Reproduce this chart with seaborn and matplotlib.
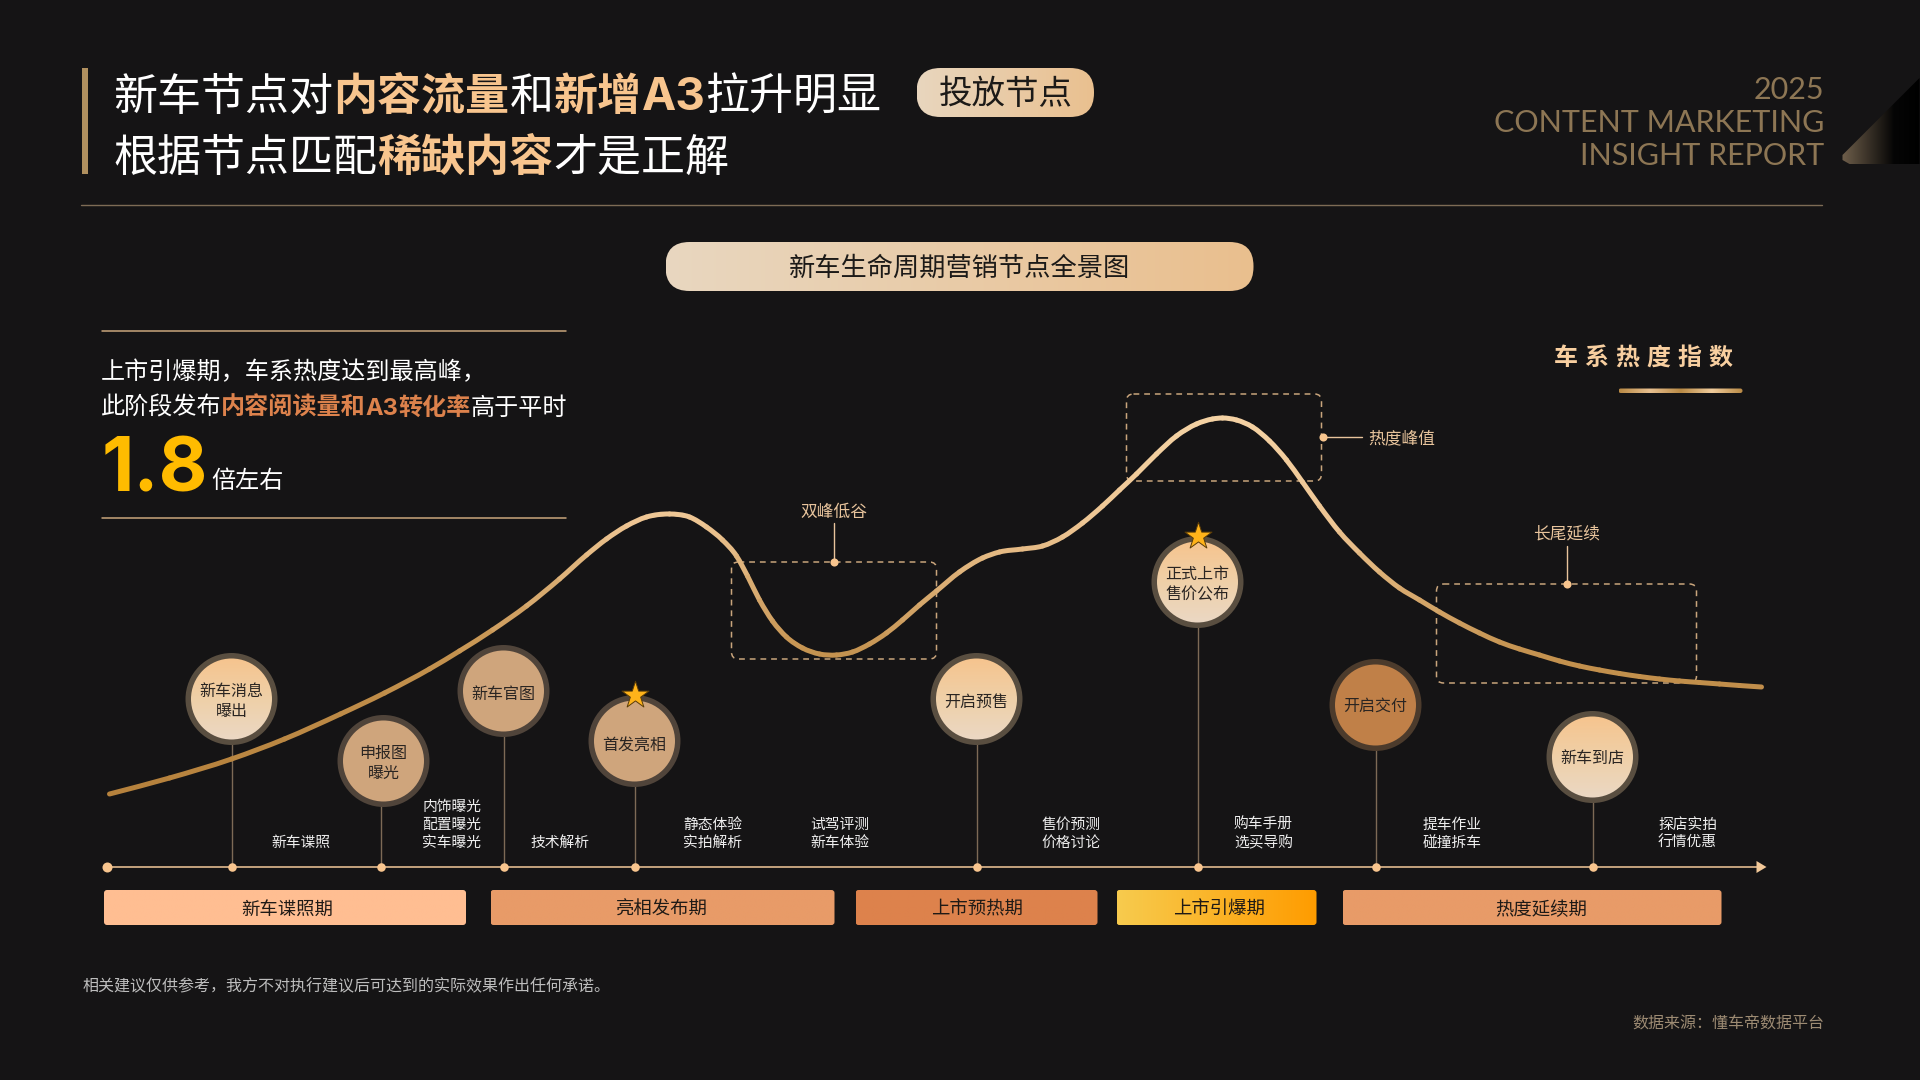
import numpy as np
import pandas as pd
import matplotlib
matplotlib.use('Agg')
import matplotlib.pyplot as plt
import seaborn as sns
from matplotlib.colors import LinearSegmentedColormap, to_rgb, to_hex
from matplotlib.patches import Circle, FancyBboxPatch, PathPatch, Polygon
from matplotlib.path import Path

# Heat curve
curve_x = [110, 170, 232, 285, 341, 385, 430, 460, 493, 527, 560, 587, 607, 627, 647, 670, 690, 707, 723, 737,
           748, 760, 773, 787, 803, 820, 837, 853, 870, 887, 903, 920, 937, 960, 983, 1000, 1023, 1043, 1063, 1083,
           1103, 1120, 1137, 1157, 1177, 1197, 1213, 1223, 1237, 1253, 1270, 1287, 1303, 1320, 1340, 1360, 1380,
           1400, 1420, 1440, 1460, 1480, 1500, 1520, 1540, 1560, 1580, 1600, 1620, 1640, 1660, 1680, 1700, 1720,
           1740, 1762]
curve_heat = [286, 302, 321, 341, 366, 387, 411, 429, 450, 474, 501, 525, 541, 554, 563, 566, 563, 553, 540, 524,
              504, 480, 459, 443, 432, 426, 425, 428, 436, 447, 460, 475, 489, 508, 522, 528, 531, 534, 543, 557,
              574, 590, 606, 626, 644, 656, 661, 662, 660, 653, 639, 620, 598, 574, 548, 527, 508,
              492, 480, 468, 457, 447, 438, 431, 425, 419, 414, 410, 406.5, 403.5, 401, 399, 397.5, 396,
              394.5, 393]

# Milestones on the timeline
node_names = ['新车消息\n曝出', '申报图\n曝光', '新车官图', '首发亮相', '开启预售', '正式上市\n售价公布', '开启交付', '新车到店']
node_x = [232, 381, 504, 635, 977, 1198, 1376, 1593]
node_y = [699, 761, 691, 741, 699, 582, 705, 757]
node_kind = ['light', 'tan', 'tan', 'tan', 'light', 'light', 'brown', 'light']
node_star = [False, False, False, True, False, True, False, False]

# Small captions above the timeline
note_names = ['新车谍照', '内饰曝光\n配置曝光\n实车曝光', '技术解析', '静态体验\n实拍解析', '试驾评测\n新车体验',
              '售价预测\n价格讨论', '购车手册\n选买导购', '提车作业\n碰撞拆车', '探店实拍\n行情优惠']
note_x = [301, 452, 560, 713, 840, 1071, 1264, 1453, 1688]

# Stages under the timeline
stage_names = ['新车谍照期', '亮相发布期', '上市预热期', '上市引爆期', '热度延续期']
stage_start = [104.5, 491, 856, 1117, 1343]
stage_end = [466.5, 835, 1098, 1317, 1722]
stage_text_x = [288, 662, 977.6, 1219, 1541.7]
stage_colors = [('#FFBE92', '#FFBE92'), ('#E89B68', '#E89B68'), ('#DD824C', '#DD824C'),
                ('#F7CB4E', '#FF9C00'), ('#E89B68', '#E89B68')]

BG = '#151415'
GOLD = '#E8C49C'
ORANGE = '#F8C58E'
CJK = ['Noto Sans CJK SC', 'DejaVu Sans']

sns.set_theme(style='dark')
plt.rcParams['font.family'] = CJK

fig = plt.figure(figsize=(19.2, 10.8), dpi=100, facecolor=BG)
# bg works in picture pixels, chart holds the heat curve on top of it
bg = fig.add_axes([0, 0, 1, 1], zorder=1)
bg.set_facecolor(BG)
chart = fig.add_axes([0, 0, 1, 1], zorder=2)
chart.patch.set_alpha(0)
renderer = fig.canvas.get_renderer()


def px(size):
    return size * 0.72


def label(x, y, s, size, color, weight='normal', ha='center', family=None):
    # y is the middle of the glyphs, so every string sits on the same line
    fam = family if family else CJK
    return bg.text(x, y + 0.36 * size, s, color=color, fontsize=px(size), fontweight=weight, ha=ha,
                   va='baseline', family=fam, zorder=6)


def stacked(x, y, s, size, color, pitch):
    lines = s.split('\n')
    for i, line in enumerate(lines):
        label(x, y + (i - (len(lines) - 1) / 2) * pitch, line, size, color)


def runs(x, y, parts, size):
    # one line of text in several colours, a fourth item is a latin family with its size factor
    for part in parts:
        s, color, weight = part[:3]
        fam, factor = part[3] if len(part) > 3 else (None, 1)
        t = label(x, y, s, size * factor, color, weight, 'left', fam)
        x += t.get_window_extent(renderer).width


def gradient(x0, y0, x1, y1, colors, clip, vertical=False, z=3):
    cmap = LinearSegmentedColormap.from_list('g', colors)
    arr = np.linspace(0, 1, 256).reshape(-1, 1) if vertical else np.linspace(0, 1, 256).reshape(1, -1)
    im = bg.imshow(arr, cmap=cmap, extent=(x0, x1, y1, y0), aspect='auto', zorder=z, interpolation='bilinear')
    clip.set_transform(bg.transData)
    clip.set(fc='none', ec='none')
    bg.add_patch(clip)
    im.set_clip_path(clip)


def rounded(x0, y0, x1, y1, r):
    return FancyBboxPatch((x0 + r, y0 + r), x1 - x0 - 2 * r, y1 - y0 - 2 * r,
                          boxstyle=f'round,pad={r},rounding_size={r}')


def dashed_box(x0, y0, x1, y1):
    box = rounded(x0, y0, x1, y1, 7)
    box.set(fc='none', ec='#C9A57C', lw=1.1, linestyle=(0, (3.8, 3.2)), zorder=2)
    bg.add_patch(box)


# Header
bg.add_patch(Polygon([(82, 68), (88, 68), (88, 174), (82, 174)], fc='#B0905F', ec='none'))
runs(114, 94, [('新车节点对', 'white', 'medium'), ('内容流量', ORANGE, 'bold'), ('和', 'white', 'medium'),
               ('新增', ORANGE, 'bold'), ('A3', ORANGE, 'bold', ('Inter', 1.04)), ('拉升明显', 'white', 'medium')], 44.05)
runs(114, 155, [('根据节点匹配', 'white', 'medium'), ('稀缺内容', ORANGE, 'bold'), ('才是正解', 'white', 'medium')], 44.05)
gradient(917, 68, 1094.5, 117, ['#E8D6BE', '#EAC08F'], rounded(917, 68, 1094.5, 117, 24))
label(1006, 92, '投放节点', 33.5, '#1c1a18', 'medium')
for s, yy in zip(['2025', 'CONTENT MARKETING', 'INSIGHT REPORT'], [88, 121, 154]):
    bg.text(1825, yy + 11, s, color='#8D7654', fontsize=px(30.5), family='Lato', ha='right', va='baseline', zorder=6)
gradient(1842, 78, 1920, 164, ['#6F5F4B', '#3A3228', '#050505', '#000000'],
         Polygon([(1920, 78), (1920, 164), (1850, 164), (1843, 160), (1843, 155)]))
bg.plot([81, 1822], [205, 205], color='#7D6B55', lw=1)

# Chart title
gradient(666, 242, 1254, 291, ['#E8D7C0', '#EABF8E'], rounded(666, 242, 1254, 291, 24))
label(960, 266, '新车生命周期营销节点全景图', 26.2, '#1c1a18', 'medium')

# Left note
for yy in [330.5, 518]:
    bg.plot([102, 566], [yy, yy], color='#C9A57C', lw=1.1)
runs(101, 371, [('上市引爆期，车系热度达到最高峰，', 'white', 'normal')], 24.1)
runs(101, 406, [('此阶段发布', 'white', 'normal'), ('内容阅读量和', '#DD824C', 'bold'),
                ('A3', '#DD824C', 'bold', ('Inter', 0.98)), ('转化率', '#DD824C', 'bold'),
                ('高于平时', 'white', 'normal')], 24.1)
bg.text(102, 492, '1.8', color='#FFBB00', fontsize=px(75), family='Inter', fontweight='bold', ha='left', va='baseline')
runs(212, 479, [('倍左右', 'white', 'normal')], 24.1)

# Index title with wide spacing
for i, ch in enumerate('车系热度指数'):
    label(1566 + i * 31, 356, ch, 24, '#F8CFA0', 'bold')
gradient(1619, 388.5, 1743, 393, ['#B98A45', '#E8C090', '#B98A45', '#F0CC9C', '#B98A45'],
         rounded(1619, 388.5, 1743, 393, 2.2))

# Dashed callouts
dashed_box(732, 562, 937, 659)
bg.plot([834, 834], [523, 562], color=GOLD, lw=1)
label(834, 511, '双峰低谷', 16.7, GOLD)
dashed_box(1127, 394, 1322, 481)
bg.plot([1323, 1362], [437, 437], color=GOLD, lw=1)
label(1369, 437.5, '热度峰值', 16.7, GOLD, ha='left')
dashed_box(1437, 584, 1697, 683)
bg.plot([1567, 1567], [546, 584], color=GOLD, lw=1)
label(1567, 532, '长尾延续', 16.7, GOLD)
bg.scatter([834, 1323, 1567], [562, 437, 584], s=34, color=ORANGE, linewidths=0, zorder=4)

# Timeline
TL = 867
bg.plot([107, 1758], [TL, TL], color='#F3C999', lw=1.1, zorder=2)
bg.add_patch(Polygon([(1757, TL - 6), (1767, TL), (1757, TL + 6)], fc='#F3C999', ec='none', zorder=2))
bg.scatter([107], [TL], s=52, color=ORANGE, linewidths=0, zorder=4)
sns.scatterplot(x=node_x, y=[TL] * len(node_x), s=38, color=ORANGE, linewidth=0, ax=bg, zorder=4, legend=False)

# Milestone bubbles
ring = {'light': '#594E40', 'tan': '#50443A', 'brown': '#4C3B2C'}
fill = {'tan': '#CFA57C', 'brown': '#C08048'}
text_nudge = [1.5, 1.5, 2.5, 2.5, 2.5, 1.5, -0.5, 0.5]
for name, x, y, kind, star, dy in zip(node_names, node_x, node_y, node_kind, node_star, text_nudge):
    bx = x + 3 if name.startswith('申报') else x
    bg.plot([x, x], [y, TL], color='#7D6A56', lw=1, zorder=2)
    bg.add_patch(Circle((bx, y), 46, fc=ring[kind], ec='none', zorder=3))
    if kind == 'light':
        gradient(bx - 41, y - 41, bx + 41, y + 41, ['#F6C48E', '#EFD0A8', '#EBD8C4'], Circle((bx, y), 40.5), vertical=True, z=4)
    else:
        bg.add_patch(Circle((bx, y), 40.5, fc=fill[kind], ec='none', zorder=4))
    stacked(bx, y + dy, name, 16, '#2A2522', 20)
    if star:
        bg.scatter([x], [y - 46], marker='*', s=420, color='#FFB31A', edgecolors='#5A3C08', linewidths=0.7, zorder=7)

# Captions, the last line of each sits on the same row
for name, x in zip(note_names, note_x):
    n = name.count('\n')
    stacked(x, 841.7 - 9 * n, name, 14.8, '#EEEEEE', 18)

# Stage bars
for name, x0, x1, tx, cols in zip(stage_names, stage_start, stage_end, stage_text_x, stage_colors):
    gradient(x0, 890, x1, 925, list(cols), rounded(x0, 890, x1, 925, 3))
    label(tx, 908, name, 18.4, '#1F1A16', 'medium')

# Footer
label(83, 986, '相关建议仅供参考，我方不对执行建议后可达到的实际效果作出任何承诺。', 16, '#BDBDBD', ha='left')
label(1825, 1022.5, '数据来源：懂车帝数据平台', 16, '#9D8B73', ha='right')

# Heat curve, one short piece per reading so the colour can follow the height
stops_heat = [286, 425, 560, 662]
stops_col = np.array([to_rgb(c) for c in ['#B5813C', '#C4924F', '#EEC694', '#F4D2A4']])
rows = []
palette = []
for i in range(len(curve_x) - 1):
    mid = (curve_heat[i] + curve_heat[i + 1]) / 2
    palette.append(to_hex([np.interp(mid, stops_heat, stops_col[:, k]) for k in range(3)]))
    rows.append((i, curve_x[i], curve_heat[i]))
    rows.append((i, curve_x[i + 1], curve_heat[i + 1]))
df = pd.DataFrame(rows, columns=['piece', 'x', 'heat'])
sns.lineplot(data=df, x='x', y='heat', hue='piece', palette=palette, estimator=None, sort=False,
             legend=False, lw=2, ax=chart)

# Round the stroke off between the readings, the way a smoothed line series is drawn
slope = np.gradient(curve_heat, curve_x)
for i, color in enumerate(palette):
    x0, x1 = curve_x[i], curve_x[i + 1]
    y0, y1 = curve_heat[i], curve_heat[i + 1]
    h = (x1 - x0) / 3
    verts = [(x0, y0), (x0 + h, y0 + slope[i] * h), (x1 - h, y1 - slope[i + 1] * h), (x1, y1)]
    chart.add_patch(PathPatch(Path(verts, [Path.MOVETO, Path.CURVE4, Path.CURVE4, Path.CURVE4]),
                              fc='none', ec=color, lw=3.6, capstyle='round'))

bg.set_xlim(0.5, 1920.5)
bg.set_ylim(1080, 0)
bg.axis('off')
chart.set_xlim(0.5, 1920.5)
chart.set_ylim(0, 1080)
chart.axis('off')

fig.savefig('out.png', dpi=100, facecolor=BG)
